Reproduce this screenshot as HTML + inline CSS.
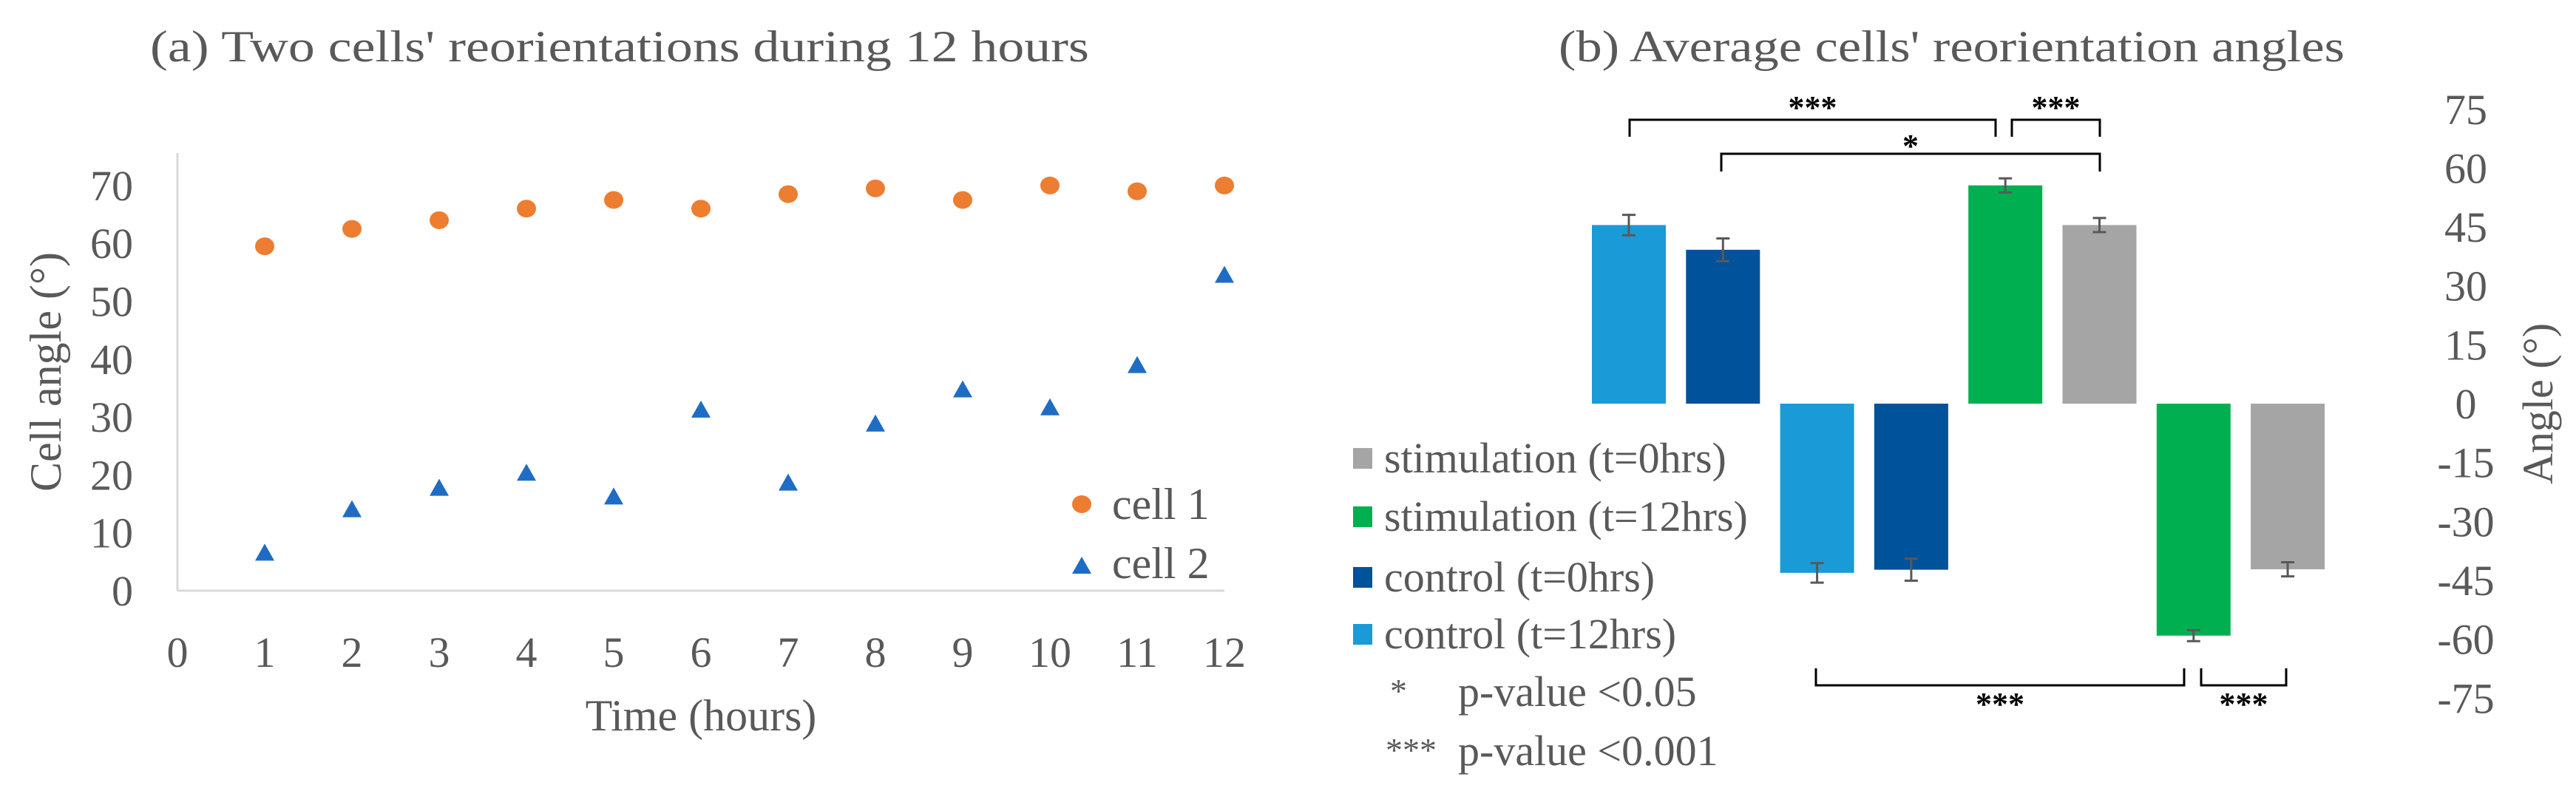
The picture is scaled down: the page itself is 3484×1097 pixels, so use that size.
<!DOCTYPE html>
<html><head><meta charset="utf-8"><style>
html,body{margin:0;padding:0;background:#fff;}
svg{display:block;font-family:"Liberation Serif",serif;}
</style></head><body>
<svg id="fig" width="3484" height="1097" viewBox="0 0 3484 1097" xmlns="http://www.w3.org/2000/svg">
<g id="left"></g>
<g id="right"></g>
</svg>
<script>
// ---------- Chart (a) data ----------
const hours = [1,2,3,4,5,6,7,8,9,10,11,12];
const cell1 = [59.5,62.5,64,66,67.5,66,68.5,69.5,67.5,70,69,70];
const cell2 = [6.6,14.1,17.8,20.4,16.3,31.3,18.7,28.9,34.8,31.7,39,54.6];
const xTicksA = [0,1,2,3,4,5,6,7,8,9,10,11,12];
const yTicksA = [0,10,20,30,40,50,60,70];
// ---------- Chart (b) data ----------
const barLabels = ["control t12 A","control t0 A","control t12 B","control t0 B","stim t12 A","stim t0 A","stim t12 B","stim t0 B"];
const barValues = [45.5,39.2,-43.1,-42.3,55.6,45.5,-59.1,-42.2];
const barErrors = [2.6,2.9,2.5,2.8,1.8,1.8,1.4,1.8];
const barColors = ["#1A9AD6","#00529A","#1A9AD6","#00529A","#00B050","#A5A5A5","#00B050","#A5A5A5"];
const yTicksB = [75,60,45,30,15,0,-15,-30,-45,-60,-75];

const NS="http://www.w3.org/2000/svg";
function mk(parent,tag,attrs,text){
  const e=document.createElementNS(NS,tag);
  for(const k in attrs) e.setAttribute(k,attrs[k]);
  if(text!==undefined) e.textContent=text;
  parent.appendChild(e); return e;
}
const GRAY="#595959";
// ---------- Chart (a) ----------
const L=document.getElementById('left');
const xA=v=>240+v*118;
const yA=v=>799-v*7.83;
let t;
t=mk(L,'text',{x:203,y:83,'font-size':60,fill:GRAY,textLength:1270,lengthAdjust:'spacingAndGlyphs'},"(a)  Two cells' reorientations  during  12 hours");


let ln=mk(L,'line',{x1:240,y1:207,x2:240,y2:799,stroke:'#D9D9D9','stroke-width':3});


ln=mk(L,'line',{x1:240,y1:799,x2:1656,y2:799,stroke:'#D9D9D9','stroke-width':3});


yTicksA.forEach(v=>{
  const e=mk(L,'text',{x:180,y:yA(v)+20,'font-size':58,fill:GRAY,'text-anchor':'end'},String(v));
  
  
});
xTicksA.forEach(v=>{
  const e=mk(L,'text',{x:xA(v),y:902,'font-size':58,fill:GRAY,'text-anchor':'middle'},String(v));
  
  
});
t=mk(L,'text',{x:xA(6),y:988,'font-size':60,fill:GRAY,'text-anchor':'middle'},"Time (hours)");


t=mk(L,'text',{x:0,y:0,'font-size':60,fill:GRAY,'text-anchor':'middle',transform:'translate(82,503) rotate(-90)'},"Cell angle (°)");


hours.forEach((h,i)=>{
  const c=mk(L,'ellipse',{cx:xA(h),cy:yA(cell1[i]),rx:13,ry:12,fill:'#ED7D31'});
  
  
  const cx=xA(h),cy=yA(cell2[i]);
  const p=mk(L,'polygon',{points:`${cx-13},${cy+11} ${cx+13},${cy+11} ${cx},${cy-12}`,fill:'#1F6CC4'});
  
  
});
let lg=mk(L,'g',{});


mk(lg,'ellipse',{cx:1463,cy:682,rx:13,ry:12,fill:'#ED7D31'});
mk(lg,'text',{x:1504,y:702,'font-size':60,fill:GRAY},"cell 1");
lg=mk(L,'g',{});


mk(lg,'polygon',{points:"1450,776 1476,776 1463,753",fill:'#1F6CC4'});
mk(lg,'text',{x:1504,y:782,'font-size':60,fill:GRAY},"cell 2");

// ---------- Chart (b) ----------
const R=document.getElementById('right');
const yB=v=>546-v*5.31;
const xB=i=>2203+i*127.3;
const BW=100;
t=mk(R,'text',{x:2108,y:83,'font-size':60,fill:GRAY,textLength:1063,lengthAdjust:'spacingAndGlyphs'},"(b) Average  cells' reorientation  angles");


yTicksB.forEach(v=>{
  const e=mk(R,'text',{x:3335,y:yB(v)+20,'font-size':58,fill:GRAY,'text-anchor':'middle'},String(v));
  
  
});
t=mk(R,'text',{x:0,y:0,'font-size':58,fill:GRAY,'text-anchor':'middle',transform:'translate(3452,546) rotate(-90)'},"Angle  (°)");


barValues.forEach((v,i)=>{
  const y0=yB(0),y1=yB(v);
  const r=mk(R,'rect',{x:xB(i)-BW/2,y:Math.min(y0,y1),width:BW,height:Math.abs(y1-y0),fill:barColors[i]});
  
  
  const e=barErrors[i],ya=yB(v+e),yb=yB(v-e),cx=xB(i);
  const g=mk(R,'g',{stroke:'#595959','stroke-width':3});
  
  
  mk(g,'line',{x1:cx,y1:ya,x2:cx,y2:yb});
  mk(g,'line',{x1:cx-9,y1:ya,x2:cx+9,y2:ya});
  mk(g,'line',{x1:cx-9,y1:yb,x2:cx+9,y2:yb});
});
function bracket(x1,x2,y,leg,label,ly,name){
  const g=mk(R,'g',{});
  
  
  mk(g,'path',{d:`M${x1},${y+leg} L${x1},${y} L${x2},${y} L${x2},${y+leg}`,fill:'none',stroke:'#000','stroke-width':3});
  mk(g,'text',{x:(x1+x2)/2,y:ly,'font-size':44,'font-weight':'bold',fill:'#000','text-anchor':'middle'},label);
}
bracket(2204,2699,162,23,"***",160,'significance-bracket-1');
bracket(2721,2840,162,23,"***",160,'significance-bracket-2');
bracket(2328,2840,208,24,"*",212,'significance-bracket-3');
bracket(2456,2954,927,-23,"***",967,'significance-bracket-4');
bracket(2977,3092,927,-23,"***",967,'significance-bracket-5');
const legItems=[["stimulation (t=0hrs)","#A5A5A5",620],["stimulation (t=12hrs)","#00B050",699],["control (t=0hrs)","#00529A",781],["control (t=12hrs)","#1A9AD6",858]];
legItems.forEach(it=>{
  const g=mk(R,'g',{});
  
  
  mk(g,'rect',{x:1830,y:it[2]-14,width:26,height:28,fill:it[1]});
  mk(g,'text',{x:1872,y:it[2]+19,'font-size':58,fill:GRAY},it[0]);
});
let n=mk(R,'text',{x:1880,y:950,'font-size':46,fill:GRAY},"*");


n=mk(R,'text',{x:1972,y:955,'font-size':58,fill:GRAY},"p-value <0.05");


n=mk(R,'text',{x:1874,y:1030,'font-size':46,fill:GRAY},"***");


n=mk(R,'text',{x:1972,y:1035,'font-size':58,fill:GRAY},"p-value <0.001");


</script>
</body></html>
